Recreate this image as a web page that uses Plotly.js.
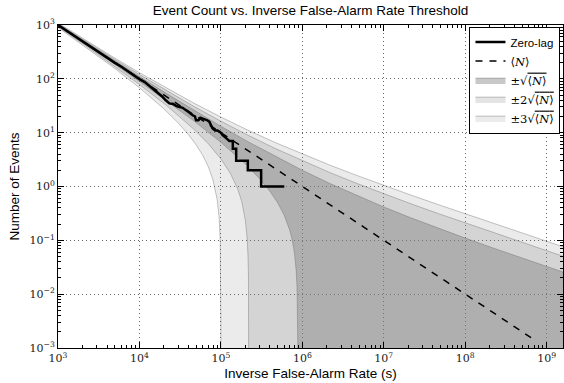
<!DOCTYPE html>
<html>
<head>
<meta charset="utf-8">
<script src="https://cdn.plot.ly/plotly-3.0.1.min.js"></script>
<style>html,body{margin:0;padding:0;background:#fff;}#chart{width:564px;height:383px;}</style>
</head>
<body>
<div id="chart"></div>
<script>
// Zero-lag cumulative event counts (step corners listed explicitly in the tail)
const zeroLagX = [1000,1200,1500,2000,2500,3000,4000,5000,6000,7000,8000,9000,10000,11500,13000,15000,17000,19000,21000,23300,26000,29000,33900,38000,42000,45000,48000,49500,53000,56000,62700,68000,72000,76000,79000,85000,91000,100000,105000,115000,127000,140000,140000,154000,154000,214000,214000,312000,312000,600000];
const zeroLagY = [1000,830,660,500,395,335,250,198,168,142,124,111,99,88,76,64,55,47,40,35,34,31,29,26,23,21,20,17,17,19,18,17,16,14,12,11,11,10,9,8,7,7,5,5,3,3,2,2,1,1];

// Expected count <N>
const meanX = [1000, 650000000];
const meanY = [1000, 0.00154];

// Upper edges of the bands (shared x)
const upperX = [1000,2154,4642,10000,21540,46420,100000,215400,464200,1000000,2154000,4642000,10000000,21540000,46420000,100000000,215400000,464200000,1000000000,1600000000];
const upper1 = [1031.6,485.7,230.1,110,53.23,26.18,13.16,6.796,3.622,2.0,1.1455,0.6796,0.4162,0.2618,0.1683,0.11,0.07277,0.04857,0.03262,0.02563];
const upper2 = [1063.2,507.3,244.8,120,60.05,30.82,16.32,8.95,5.09,3.0,1.827,1.144,0.7324,0.4772,0.3151,0.21,0.1409,0.09499,0.06424,0.05063];
const upper3 = [1094.9,528.8,259.4,130,66.86,35.47,19.49,11.10,6.558,4.0,2.508,1.608,1.0486,0.6926,0.4619,0.31,0.2090,0.1414,0.09586,0.07563];

// Lower edges of the bands
const lower1X = [1000,2154,4642,10000,21540,46420,100000,200000,300000,400000,500000,600000,700000,750000,800000,840000,860000,870000,875000,878000,880000,2000000000];
const lower1Y = [966.3,441.2,199.8,89.34,39.16,16.59,6.629,2.616,1.387,0.8145,0.4924,0.2905,0.1544,0.1024,0.05818,0.02737,0.01329,0.00655,0.003246,0.001295,0.00001,0.00001];
const lower2X = [1000,2154,4642,10000,21540,46420,70000,100000,130000,160000,180000,200000,210000,215000,218000,219000,219500,219800,220000,2000000000];
const lower2Y = [932.6,418.3,184.1,78.68,31.9,11.65,6.227,3.258,1.779,0.92,0.5304,0.2327,0.1095,0.05316,0.02092,0.01041,0.00518,0.00207,0.00001,0.00001];
const lower3X = [1000,2154,4642,10000,20000,30000,40000,50000,60000,70000,80000,90000,95000,98000,99000,99500,99800,99900,99950,100000,2000000000];
const lower3Y = [900,396.1,169.0,68.38,27.64,15.08,9.189,5.858,3.757,2.333,1.320,0.5702,0.2665,0.1026,0.0506,0.02515,0.01003,0.005,0.0025,0.00001,0.00001];

// Axis tick labels
const xTickVals = [1e3,1e4,1e5,1e6,1e7,1e8,1e9];
const xTickText = ['10<sup>3</sup>','10<sup>4</sup>','10<sup>5</sup>','10<sup>6</sup>','10<sup>7</sup>','10<sup>8</sup>','10<sup>9</sup>'];
const yTickVals = [1e-3,1e-2,1e-1,1,10,100,1000];
const yTickText = ['10<sup>−3</sup>','10<sup>−2</sup>','10<sup>−1</sup>','10<sup>0</sup>','10<sup>1</sup>','10<sup>2</sup>','10<sup>3</sup>'];

function band(lx, ly, upper, name, color, rank) {
  const xs = upperX.concat(lx.slice().reverse());
  const ys = upper.concat(ly.slice().reverse());
  return {
    x: xs, y: ys, type: 'scatter', mode: 'lines', fill: 'toself',
    fillcolor: color, line: {color: 'rgba(90,90,90,0.35)', width: 1},
    name: name, legendrank: rank, hoverinfo: 'skip'
  };
}

const serif = "'DejaVu Serif', serif";
const N = '<span style="font-family:DejaVu Serif">⟨<i>N</i>⟩</span>';
const traces = [
  band(lower3X, lower3Y, upper3, '<span style="font-family:DejaVu Serif">±3√<span style="text-decoration:overline">⟨<i>N</i>⟩</span></span>', 'rgba(128,128,128,0.16)', 5),
  band(lower2X, lower2Y, upper2, '<span style="font-family:DejaVu Serif">±2√<span style="text-decoration:overline">⟨<i>N</i>⟩</span></span>', 'rgba(128,128,128,0.213)', 4),
  band(lower1X, lower1Y, upper1, '<span style="font-family:DejaVu Serif">±√<span style="text-decoration:overline">⟨<i>N</i>⟩</span></span>', 'rgba(128,128,128,0.43)', 3),
  {x: meanX, y: meanY, type: 'scatter', mode: 'lines', name: N, legendrank: 2,
   line: {color: 'black', width: 1.5, dash: '7px,7px'}},
  {x: zeroLagX, y: zeroLagY, type: 'scatter', mode: 'lines', name: 'Zero-lag', legendrank: 1,
   line: {color: 'black', width: 2.5, shape: 'linear'}}
];

const axisCommon = {
  type: 'log', showline: true, linecolor: 'black', linewidth: 1, mirror: 'allticks',
  ticks: 'inside', ticklen: 6, tickwidth: 1, tickcolor: 'black',
  showgrid: true, gridcolor: 'rgba(0,0,0,0.6)', griddash: '1px,3px', gridwidth: 1,
  zeroline: false, tickmode: 'array',
  tickfont: {family: serif, size: 11, color: '#222'},
  minor: {ticks: 'inside', ticklen: 3, tickcolor: 'black', tickwidth: 1, dtick: 'D1', showgrid: false}
};

const layout = {
  width: 564, height: 383,
  margin: {l: 58, r: 1, t: 25, b: 35},
  paper_bgcolor: 'white', plot_bgcolor: 'white',
  showlegend: true,
  title: {text: 'Event Count vs. Inverse False-Alarm Rate Threshold',
          font: {family: 'Liberation Sans, Arial, sans-serif', size: 13.5, color: 'black'},
          xref: 'paper', x: 0.5, xanchor: 'center', yref: 'container', y: 0.973, yanchor: 'middle'},
  xaxis: Object.assign({}, axisCommon, {
    range: [3, 9.2], tickvals: xTickVals, ticktext: xTickText,
    title: {text: 'Inverse False-Alarm Rate (s)', font: {family: 'Liberation Sans, Arial, sans-serif', size: 13.5, color: 'black'}, standoff: 4}
  }),
  yaxis: Object.assign({}, axisCommon, {
    range: [-3, 3], tickvals: yTickVals, ticktext: yTickText,
    title: {text: 'Number of Events', font: {family: 'Liberation Sans, Arial, sans-serif', size: 13.5, color: 'black'}, standoff: 6}
  }),
  legend: {x: 0.995, xanchor: 'right', y: 0.995, yanchor: 'top',
           bgcolor: 'white', bordercolor: 'black', borderwidth: 1,
           font: {family: 'Liberation Sans, Arial, sans-serif', size: 11.5, color: 'black'},
           tracegroupgap: 0, itemwidth: 30}
};

Plotly.newPlot('chart', traces, layout, {displayModeBar: false, staticPlot: true});
</script>
</body>
</html>
